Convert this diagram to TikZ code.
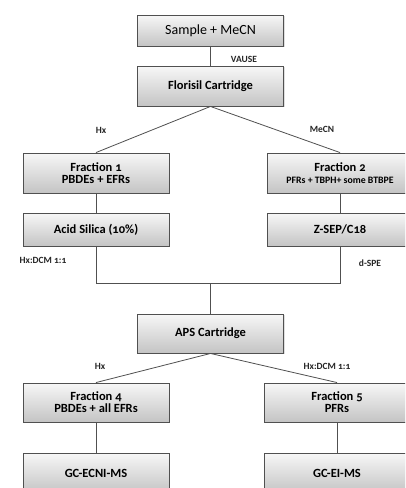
\documentclass[tikz,border=0pt]{standalone}
\usepackage{fontspec}
\setmainfont[Numbers=OldStyle]{Carlito}
\usetikzlibrary{shadows}
\definecolor{edge}{HTML}{505050}
\definecolor{boxtop}{HTML}{F7F7F7}
\definecolor{boxbot}{HTML}{C4C4C4}
\tikzset{
  box/.style={draw=edge, line width=0.9pt, top color=boxtop, bottom color=boxbot,
    minimum width=146pt, inner sep=0pt, align=center,
    drop shadow={shadow xshift=1pt, shadow yshift=-1pt, opacity=0.25}},
  conn/.style={draw=edge, line width=0.8pt},
  lab/.style={font=\bfseries\fontsize{9.5}{10}\selectfont, text=black!85},
  main/.style={font=\bfseries\fontsize{12.5}{13}\selectfont},
}
\begin{document}
\begin{tikzpicture}[x=1pt,y=-1pt]
\useasboundingbox (0,0) rectangle (405,488);
\clip (0,0) rectangle (405,488);
\fill[white] (0,0) rectangle (405,488);
% boxes
\node[box, minimum height=31pt, font=\fontsize{14}{15}\selectfont] (s) at (210.5,30.5) {Sample + MeCN};
\node[box, minimum height=40pt, main] (f) at (210.5,86) {Florisil Cartridge};
\node[box, minimum height=40pt, main] (f1) at (96,173) {Fraction 1\\[-1pt]PBDEs + EFRs};
\node[box, minimum height=40pt, main] (f2) at (340,173) {Fraction 2\\[-1pt]{\fontsize{9.8}{10}\selectfont PFRs + TBPH+ some BTBPE}};
\node[box, minimum height=33pt, main] (a) at (96,229.5) {Acid Silica (10\%)};
\node[box, minimum height=33pt, main] (z) at (340,229.5) {Z-SEP/C18};
\node[box, minimum height=39pt, main] (aps) at (210.5,333.5) {APS Cartridge};
\node[box, minimum height=39pt, main] (f4) at (96,402.5) {Fraction 4\\[-1pt]PBDEs + all EFRs};
\node[box, minimum height=39pt, main] (f5) at (337,402.5) {Fraction 5\\[-1pt]PFRs};
\node[box, minimum height=40pt, main] (g1) at (96,473) {GC-ECNI-MS};
\node[box, minimum height=40pt, main] (g2) at (337,473) {GC-EI-MS};
% connectors
\coordinate (j) at (210.5,283);
\draw[conn] (s) -- (f);
\draw[conn] (f.south) -- (f1.north);
\draw[conn] (f.south) -- (f2.north);
\draw[conn] (f1) -- (a);
\draw[conn] (f2) -- (z);
\draw[conn] (a.south) |- (j);
\draw[conn] (z.south) |- (j);
\draw[conn] (j) -- (aps.north);
\draw[conn] (aps.south) -- (f4.north);
\draw[conn] (aps.south) -- (f5.north);
\draw[conn] (f4) -- (g1);
\draw[conn] (f5) -- (g2);
% labels
\node[lab] (l1) at (244,59) {VAUSE};
\node[lab] (l2) at (101,130) {Hx};
\node[lab] (l3) at (322,129) {MeCN};
\node[lab] (l4) at (43,260) {Hx:DCM 1:1};
\node[lab] (l5) at (370,263) {d-SPE};
\node[lab] (l6) at (100,366) {Hx};
\node[lab] (l7) at (327,366) {Hx:DCM 1:1};
\end{tikzpicture}
\end{document}
